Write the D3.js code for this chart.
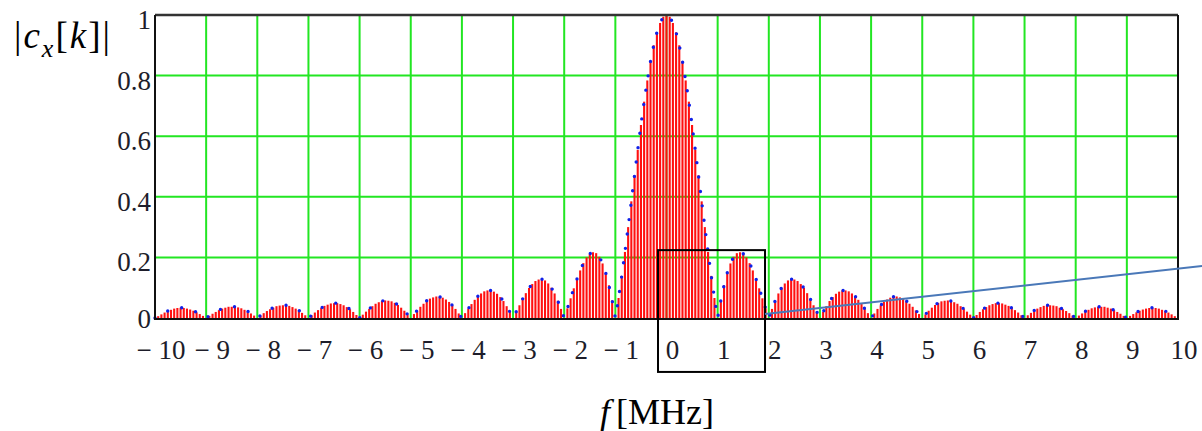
<!DOCTYPE html>
<html>
<head>
<meta charset="utf-8">
<script src="https://cdn.jsdelivr.net/npm/d3@7"></script>
<style>
  html, body { margin: 0; padding: 0; background: #fff; }
  svg { display: block; }
</style>
</head>
<body>
<svg id="chart" width="1202" height="431"></svg>
<script>
// Spectral line index k (f = k * df), magnitudes |c_x[k]|
const df = 1 / 16; // MHz between spectral lines
const kMin = -160, kMax = 160;

// k = -160 ... -1
const magNeg = [
  0, .006, .012, .018, .023, .027, .031, .033, .034, .033, .031, .028, .024, .019, .013, .007,
  0, .007, .014, .020, .026, .031, .034, .037, .037, .037, .035, .032, .027, .022, .015, .008,
  0, .008, .016, .023, .029, .034, .039, .041, .042, .042, .040, .036, .031, .025, .017, .009,
  0, .009, .018, .026, .033, .040, .044, .048, .049, .049, .046, .042, .036, .029, .020, .010,
  0, .011, .021, .030, .039, .047, .052, .056, .058, .057, .055, .050, .043, .034, .024, .012,
  0, .013, .025, .037, .047, .057, .064, .068, .071, .070, .067, .061, .053, .042, .030, .015,
  0, .016, .031, .046, .060, .072, .081, .088, .091, .091, .087, .080, .069, .056, .039, .020,
  0, .021, .042, .063, .082, .099, .112, .122, .127, .128, .124, .114, .100, .081, .057, .030,
  0, .032, .065, .098, .129, .157, .181, .200, .212, .217, .214, .202, .180, .149, .108, .058,
  0, .066, .139, .218, .300, .385, .471, .555, .637, .714, .784, .847, .900, .943, .974, .994
];
// k = 0 ... 160
const magPos = [
  1, .994, .974, .943, .900, .847, .784, .714, .637, .555, .471, .385, .300, .218, .139, .066, 0,
  .058, .108, .149, .180, .202, .214, .217, .212, .200, .181, .157, .129, .098, .065, .032, 0,
  .030, .057, .081, .100, .114, .124, .128, .127, .122, .112, .099, .082, .063, .042, .021, 0,
  .020, .039, .056, .069, .080, .087, .091, .091, .088, .081, .072, .060, .046, .031, .016, 0,
  .015, .030, .042, .053, .061, .067, .070, .071, .068, .064, .057, .047, .037, .025, .013, 0,
  .012, .024, .034, .043, .050, .055, .057, .058, .056, .052, .047, .039, .030, .021, .011, 0,
  .010, .020, .029, .036, .042, .046, .049, .049, .048, .044, .040, .033, .026, .018, .009, 0,
  .009, .017, .025, .031, .036, .040, .042, .042, .041, .039, .034, .029, .023, .016, .008, 0,
  .008, .015, .022, .027, .032, .035, .037, .037, .037, .034, .031, .026, .020, .014, .007, 0,
  .007, .013, .019, .024, .028, .031, .033, .034, .033, .031, .027, .023, .018, .012, .006, 0
];

const xTicks = [-10,-9,-8,-7,-6,-5,-4,-3,-2,-1,0,1,2,3,4,5,6,7,8,9,10];
const yTicks = [0, 0.2, 0.4, 0.6, 0.8, 1];
const yTickLabels = ["0", "0.2", "0.4", "0.6", "0.8", "1"];

// Annotation (highlight box and leader line), in data units
const boxF = [-0.166, 1.926];
const boxM = [-0.178, 0.224];
const leaderF = [1.926, 10.47];
const leaderM = [0.013, 0.172];

const magnitudes = magNeg.concat(magPos);
const kIdx = d3.range(kMin, kMax + 1);
const data = kIdx.map((k, i) => ({ f: k * df, m: magnitudes[i] }));

const svg = d3.select("#chart");
const L = 155, R = 1178, T = 15, B = 318;
const x = d3.scaleLinear().domain([-10, 10]).range([L, R]);
const y = d3.scaleLinear().domain([0, 1]).range([B, T]);

// grid
const grid = svg.append("g");
grid.selectAll("line.v").data(xTicks.filter(t => t > -10 && t < 10)).join("line")
  .attr("x1", d => x(d)).attr("x2", d => x(d)).attr("y1", T).attr("y2", B)
  .attr("stroke", "#22e622").attr("stroke-width", 2);
grid.selectAll("line.h").data(yTicks.filter(t => t > 0 && t < 1)).join("line")
  .attr("y1", d => y(d)).attr("y2", d => y(d)).attr("x1", L).attr("x2", R)
  .attr("stroke", "#22e622").attr("stroke-width", 2);

// stems
svg.append("g").selectAll("line").data(data).join("line")
  .attr("x1", d => x(d.f)).attr("x2", d => x(d.f))
  .attr("y1", y(0)).attr("y2", d => y(d.m))
  .attr("stroke", "#ff1010").attr("stroke-width", 2.1);

// dotted trace
svg.append("path").datum(data)
  .attr("d", d3.line().x(d => x(d.f)).y(d => y(d.m)))
  .attr("fill", "none").attr("stroke", "#1020e8").attr("stroke-width", 3.4)
  .attr("stroke-linecap", "round").attr("stroke-dasharray", "0 14.5");

// frame
svg.append("line").attr("x1", L).attr("x2", R).attr("y1", T).attr("y2", T)
  .attr("stroke", "#333").attr("stroke-width", 2.5);
svg.append("line").attr("x1", L).attr("x2", L).attr("y1", T).attr("y2", B + 1)
  .attr("stroke", "#111").attr("stroke-width", 2);
svg.append("line").attr("x1", R).attr("x2", R).attr("y1", T).attr("y2", B + 1)
  .attr("stroke", "#111").attr("stroke-width", 2);
svg.append("line").attr("x1", L - 1).attr("x2", R + 1).attr("y1", B + 1).attr("y2", B + 1)
  .attr("stroke", "#111").attr("stroke-width", 2.2);

// y tick labels
svg.append("g").selectAll("text").data(yTicks).join("text")
  .attr("x", 151).attr("y", d => d === 0 ? y(d) + 10 : y(d) + 14)
  .attr("text-anchor", "end")
  .attr("font-family", "'Liberation Serif', 'Times New Roman', serif")
  .attr("font-size", 27).attr("fill", "#1d1d2a")
  .text((d, i) => yTickLabels[i]);

// x tick labels
svg.append("g").selectAll("text").data(xTicks).join("text")
  .attr("x", d => x(d) + 6).attr("y", 359)
  .attr("text-anchor", "middle")
  .attr("font-family", "'Liberation Serif', 'Times New Roman', serif")
  .attr("font-size", 27).attr("fill", "#1d1d2a")
  .text(d => d < 0 ? "\u2212 " + Math.abs(d) : String(d));

// highlight box
svg.append("rect")
  .attr("x", x(boxF[0])).attr("y", y(boxM[1]))
  .attr("width", x(boxF[1]) - x(boxF[0])).attr("height", y(boxM[0]) - y(boxM[1]))
  .attr("fill", "none").attr("stroke", "#000").attr("stroke-width", 2);

// leader line
svg.append("line")
  .attr("x1", x(leaderF[0])).attr("y1", y(leaderM[0]))
  .attr("x2", x(leaderF[1])).attr("y2", y(leaderM[1]))
  .attr("stroke", "#4a78b8").attr("stroke-width", 2);

// axis titles
const yt = svg.append("text").attr("x", 14).attr("y", 48)
  .attr("font-family", "'Liberation Serif', 'Times New Roman', serif")
  .attr("font-size", 37).attr("fill", "#000").attr("letter-spacing", 2);
yt.append("tspan").text("|");
yt.append("tspan").attr("font-style", "italic").text("c");
yt.append("tspan").attr("font-style", "italic").attr("font-size", 26).attr("dy", 9).text("x");
yt.append("tspan").attr("dy", -9).text("[");
yt.append("tspan").attr("font-style", "italic").text("k");
yt.append("tspan").text("]|");

const xt = svg.append("text").attr("x", 600).attr("y", 424)
  .attr("font-family", "'Liberation Serif', 'Times New Roman', serif")
  .attr("font-size", 36).attr("fill", "#000");
xt.append("tspan").attr("font-style", "italic").text("f");
xt.append("tspan").attr("dx", 6).text("[MHz]");
</script>
</body>
</html>
